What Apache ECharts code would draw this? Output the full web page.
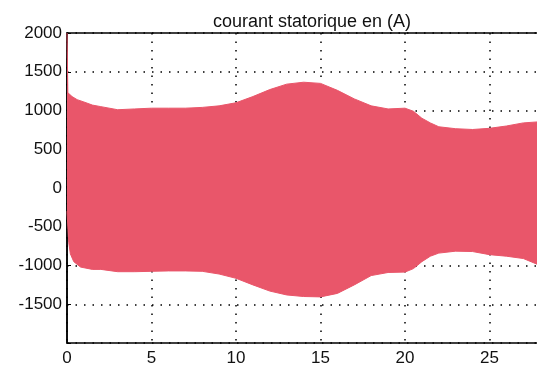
<!DOCTYPE html>
<html>
<head>
<meta charset="utf-8">
<script src="https://cdn.jsdelivr.net/npm/echarts@6/dist/echarts.min.js"></script>
<style>
html,body{margin:0;padding:0;background:#fff;}
#chart{width:537px;height:377px;}
</style>
</head>
<body>
<div id="chart"></div>
<script>
// Envelope of the stator current (A)
var upperT = [0, 0.05, 0.3, 0.6, 1.0, 1.5, 2, 3, 4, 5, 6, 7, 8, 9, 10, 11, 12, 13, 14, 15, 16, 17, 18, 19, 20, 20.5, 21, 21.5, 22, 23, 24, 25, 26, 27, 28];
var upperV = [2000, 1230, 1180, 1140, 1110, 1070, 1050, 1010, 1020, 1030, 1030, 1030, 1040, 1060, 1100, 1180, 1270, 1340, 1365, 1350, 1260, 1150, 1060, 1020, 1030, 990, 900, 840, 790, 765, 755, 770, 800, 840, 855];
var lowerT = [0, 0.1, 0.2, 0.4, 0.8, 1.5, 2, 3, 4, 5, 6, 7, 8, 9, 10, 11, 12, 13, 14, 15, 16, 17, 18, 19, 20, 20.5, 21, 21.5, 22, 23, 24, 25, 26, 27, 28];
var lowerV = [-300, -700, -850, -950, -1020, -1050, -1050, -1080, -1080, -1075, -1070, -1070, -1075, -1110, -1165, -1250, -1330, -1380, -1400, -1405, -1360, -1250, -1130, -1090, -1085, -1040, -950, -880, -840, -815, -820, -860, -880, -910, -1000];
var titleText = 'courant statorique en (A)';

function pairs(t, v) { return t.map(function (x, i) { return [x, v[i]]; }); }

var fill = 'rgb(233,86,106)';
var chart = echarts.init(document.getElementById('chart'), null, {renderer: 'canvas'});
chart.setOption({
  animation: false,
  backgroundColor: '#fff',
  title: {
    text: titleText,
    left: 307, top: 8, textAlign: 'center',
    textStyle: {fontFamily: 'Liberation Sans', fontSize: 18, fontWeight: 'normal', color: '#111'}
  },
  grid: {left: 67, right: -37, top: 33, bottom: 34, outerBoundsMode: 'none', containLabel: false,
    show: true, borderColor: '#000', borderWidth: 1.5, backgroundColor: 'transparent'},
  xAxis: {
    type: 'value', min: 0, max: 30, interval: 5,
    axisLine: {show: true, lineStyle: {color: '#000', width: 1.5}},
    axisTick: {show: true, inside: true, length: 4, lineStyle: {color: '#000'}},
    axisLabel: {margin: 7, color: '#111', fontFamily: 'Liberation Sans', fontSize: 17},
    splitLine: {show: true, lineStyle: {color: '#000', width: 1.5, type: [1.5, 7]}}
  },
  yAxis: {
    type: 'value', min: -2000, max: 2000, interval: 500,
    axisLine: {show: true, lineStyle: {color: '#000', width: 1.5}},
    axisTick: {show: true, inside: true, length: 4, lineStyle: {color: '#000'}},
    axisLabel: {margin: 5, color: '#111', fontFamily: 'Liberation Sans', fontSize: 17,
      formatter: function (v) { return v === -2000 ? '' : String(v); }},
    splitLine: {show: true, lineStyle: {color: '#000', width: 1.5, type: [1.5, 7]}}
  },
  series: [
    {type: 'line', data: pairs(upperT, upperV), symbol: 'none', lineStyle: {color: fill, width: 1}, areaStyle: {color: fill, opacity: 1, origin: 0}, z: 3},
    {type: 'line', data: pairs(lowerT, lowerV), symbol: 'none', lineStyle: {color: fill, width: 1}, areaStyle: {color: fill, opacity: 1, origin: 0}, z: 3}
  ]
});
</script>
</body>
</html>
